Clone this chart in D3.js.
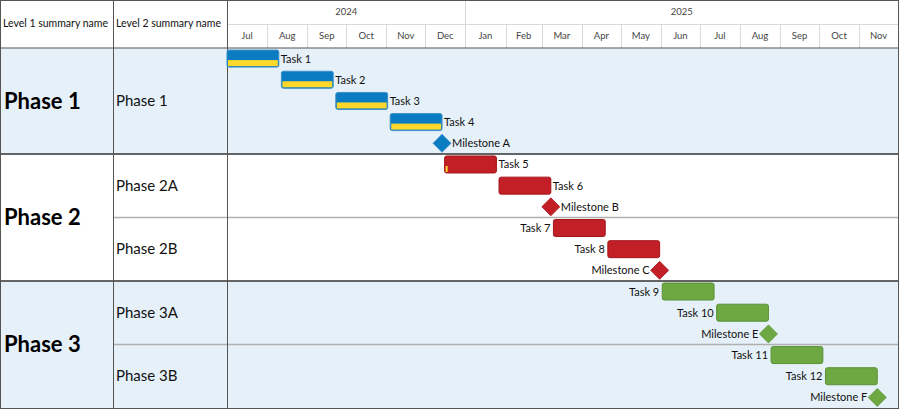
<!DOCTYPE html>
<html>
<head>
<meta charset="utf-8">
<script src="https://cdn.jsdelivr.net/npm/d3@7"></script>
<style>
  body { margin: 0; background: #fff; }
  svg { display: block; font-family: Lato, "Open Sans", sans-serif; }
</style>
</head>
<body>
<svg id="chart" width="900" height="409"></svg>
<script>
// level 1 / level 2 groups
const level1Names = ["Phase 1", "Phase 2", "Phase 3"];
const level1Colors = ["#0b7bc2", "#c21f26", "#6ea843"];
const level1Strokes = ["#3b8fc9", "#a5161d", "#5a9236"];
const level1Shade = [true, false, true];
const level2Names = ["Phase 1", "Phase 2A", "Phase 2B", "Phase 3A", "Phase 3B"];
const level2Parent = [0, 1, 1, 2, 2];

// rows (tasks and milestones)
const itemNames = ["Task 1", "Task 2", "Task 3", "Task 4", "Milestone A",
  "Task 5", "Task 6", "Milestone B",
  "Task 7", "Task 8", "Milestone C",
  "Task 9", "Task 10", "Milestone E",
  "Task 11", "Task 12", "Milestone F"];
const itemGroup = [0, 0, 0, 0, 0, 1, 1, 1, 2, 2, 2, 3, 3, 3, 4, 4, 4];
const itemStart = ["2024-07-01", "2024-08-12", "2024-09-23", "2024-11-04", "2024-12-14",
  "2024-12-16", "2025-01-27", "2025-03-08",
  "2025-03-10", "2025-04-21", "2025-05-31",
  "2025-06-02", "2025-07-14", "2025-08-23",
  "2025-08-25", "2025-10-06", "2025-11-15"];
const itemEnd = ["2024-08-10", "2024-09-21", "2024-11-02", "2024-12-14", "2024-12-14",
  "2025-01-25", "2025-03-08", "2025-03-08",
  "2025-04-19", "2025-05-31", "2025-05-31",
  "2025-07-12", "2025-08-23", "2025-08-23",
  "2025-10-04", "2025-11-15", "2025-11-15"];
const itemMilestone = [false, false, false, false, true, false, false, true,
  false, false, true, false, false, true, false, false, true];
const itemProgress = [100, 100, 100, 100, 0, 4, 0, 0, 0, 0, 0, 0, 0, 0, 0, 0, 0];
const itemLabelSide = ["right", "right", "right", "right", "right", "right", "right", "right",
  "left", "left", "left", "left", "left", "left", "left", "left", "left"];

const headerLeft = ["Level 1 summary name", "Level 2 summary name"];
const timeStart = "2024-07-01", timeEnd = "2025-12-01";

const parse = d3.timeParse("%Y-%m-%d");
const svg = d3.select("#chart");

let col1 = 0, col2 = 113, col3 = 227, right = 898;
let headerMid = 24, headerBottom = 48, bottom = 408;

let x = d3.scaleTime()
  .domain([parse(timeStart), parse(timeEnd)])
  .range([col3, right]);

let y = d3.scaleLinear()
  .domain([0, itemNames.length])
  .range([headerBottom, bottom]);

// index range of each level2 / level1 group
let l2Range = level2Names.map(function(d, i){
  let idx = itemGroup.map((g, j) => g == i ? j : -1).filter(j => j >= 0);
  return [d3.min(idx), d3.max(idx) + 1];
});
let l1Range = level1Names.map(function(d, i){
  let r = l2Range.filter((r, j) => level2Parent[j] == i);
  return [d3.min(r, r => r[0]), d3.max(r, r => r[1])];
});

let gBack = svg.append("g");
let gGrid = svg.append("g");
let gText = svg.append("g");
let gMarks = svg.append("g");

// shaded phase bands
gBack.selectAll("rect")
  .data(l1Range)
  .enter()
  .append("rect")
  .attr("x", col1)
  .attr("width", right - col1)
  .attr("y", d => y(d[0]))
  .attr("height", d => y(d[1]) - y(d[0]))
  .attr("fill", (d, i) => level1Shade[i] ? "#e5f0f8" : "#fff");

// header: years
let years = d3.timeYear.range(d3.timeYear.floor(x.domain()[0]), x.domain()[1]);
gGrid.selectAll(".year-line")
  .data(years.slice(1))
  .enter()
  .append("line")
  .attr("x1", d => Math.round(x(d)) + 0.5)
  .attr("x2", d => Math.round(x(d)) + 0.5)
  .attr("y1", 0)
  .attr("y2", headerBottom)
  .attr("stroke", "#d9d9d9");

gText.selectAll(".year-label")
  .data(years)
  .enter()
  .append("text")
  .attr("x", function(d){
    let a = Math.max(x(d), col3);
    let b = Math.min(x(d3.timeYear.offset(d, 1)), right);
    return (a + b) / 2;
  })
  .attr("y", 15)
  .attr("text-anchor", "middle")
  .attr("font-size", 9.5)
  .attr("fill", "#444")
  .text(d3.timeFormat("%Y"));

// header: months
let months = x.ticks(d3.timeMonth);
gGrid.selectAll(".month-line")
  .data(months.slice(1))
  .enter()
  .append("line")
  .attr("x1", d => Math.round(x(d)) + 0.5)
  .attr("x2", d => Math.round(x(d)) + 0.5)
  .attr("y1", headerMid)
  .attr("y2", headerBottom)
  .attr("stroke", "#d9d9d9");

gText.selectAll(".month-label")
  .data(months.filter(d => d < x.domain()[1]))
  .enter()
  .append("text")
  .attr("x", d => (x(d) + x(d3.timeMonth.offset(d, 1))) / 2)
  .attr("y", 39)
  .attr("text-anchor", "middle")
  .attr("font-size", 9.5)
  .attr("fill", "#444")
  .text(d3.timeFormat("%b"));

gGrid.append("line")
  .attr("x1", col3).attr("x2", right)
  .attr("y1", headerMid + 0.5).attr("y2", headerMid + 0.5)
  .attr("stroke", "#d9d9d9");

// left header texts
gText.selectAll(".head-left")
  .data(headerLeft)
  .enter()
  .append("text")
  .attr("x", (d, i) => (i == 0 ? col1 : col2) + 3)
  .attr("y", 27)
  .attr("font-size", 10.5)
  .attr("fill", "#111")
  .text(d => d);

// level 2 separators (thin gray, inside a phase)
gGrid.selectAll(".l2-line")
  .data(l2Range.filter((r, i) => i > 0 && level2Parent[i] == level2Parent[i - 1]))
  .enter()
  .append("line")
  .attr("x1", col2).attr("x2", right)
  .attr("y1", d => y(d[0])).attr("y2", d => y(d[0]))
  .attr("stroke", "#b0b0b0")
  .attr("stroke-width", 1.5);

// level 1 separators (thick dark)
gGrid.selectAll(".l1-line")
  .data(l1Range.slice(1))
  .enter()
  .append("line")
  .attr("x1", col1).attr("x2", right)
  .attr("y1", d => y(d[0])).attr("y2", d => y(d[0]))
  .attr("stroke", "#333")
  .attr("stroke-width", 1.5);

gGrid.append("line")
  .attr("x1", col1).attr("x2", right)
  .attr("y1", headerBottom).attr("y2", headerBottom)
  .attr("stroke", "#555")
  .attr("stroke-width", 1.2);

// vertical column lines
gGrid.selectAll(".col-line")
  .data([col2, col3])
  .enter()
  .append("line")
  .attr("x1", d => d + 0.5).attr("x2", d => d + 0.5)
  .attr("y1", 0).attr("y2", bottom + 1)
  .attr("stroke", "#555");

// outer border
gGrid.append("rect")
  .attr("x", col1 + 0.5).attr("y", 0.5)
  .attr("width", right - col1).attr("height", bottom)
  .attr("fill", "none")
  .attr("stroke", "#555");

// level 1 / level 2 names
gText.selectAll(".l1-name")
  .data(l1Range)
  .enter()
  .append("text")
  .attr("x", col1 + 4)
  .attr("y", d => (y(d[0]) + y(d[1])) / 2 + 8)
  .attr("font-size", 22)
  .attr("font-weight", "bold")
  .attr("fill", "#000")
  .text((d, i) => level1Names[i]);

gText.selectAll(".l2-name")
  .data(l2Range)
  .enter()
  .append("text")
  .attr("x", col2 + 3)
  .attr("y", d => (y(d[0]) + y(d[1])) / 2 + 5)
  .attr("font-size", 15)
  .attr("fill", "#111")
  .text((d, i) => level2Names[i]);

// tasks
let rowH = y(1) - y(0);
let barH = 17;
let items = itemNames.map(function(d, i){
  return {
    name: d, i: i,
    start: parse(itemStart[i]), end: parse(itemEnd[i]),
    milestone: itemMilestone[i], progress: itemProgress[i],
    side: itemLabelSide[i],
    phase: level2Parent[itemGroup[i]]
  };
});

let tasks = items.filter(d => !d.milestone);
let gTask = gMarks.selectAll(".task")
  .data(tasks)
  .enter()
  .append("g")
  .attr("class", "task");

gTask.append("rect")
  .attr("x", d => x(d.start))
  .attr("y", d => y(d.i) + rowH / 2 - barH / 2)
  .attr("width", d => x(d.end) - x(d.start))
  .attr("height", barH)
  .attr("rx", 2)
  .attr("fill", d => level1Colors[d.phase])
  .attr("stroke", d => level1Strokes[d.phase])
  .attr("stroke-width", 1);

gTask.filter(d => d.progress > 0)
  .append("rect")
  .attr("x", d => x(d.start) + 1)
  .attr("y", d => y(d.i) + rowH / 2 + 1.5)
  .attr("width", d => (x(d.end) - x(d.start) - 2) * d.progress / 100)
  .attr("height", barH / 2 - 2.5)
  .attr("fill", "#fdd82b");

gTask.append("text")
  .attr("x", d => d.side == "right" ? x(d.end) + 2 : x(d.start) - 3)
  .attr("y", d => y(d.i) + rowH / 2 + 4)
  .attr("text-anchor", d => d.side == "right" ? "start" : "end")
  .attr("font-size", 11)
  .attr("fill", "#111")
  .text(d => d.name);

// milestones
let ms = 9;
let gMs = gMarks.selectAll(".milestone")
  .data(items.filter(d => d.milestone))
  .enter()
  .append("g")
  .attr("class", "milestone");

gMs.append("path")
  .attr("d", function(d){
    let cx = x(d.start), cy = y(d.i) + rowH / 2;
    return "M" + (cx - ms) + "," + cy + "L" + cx + "," + (cy - ms) +
      "L" + (cx + ms) + "," + cy + "L" + cx + "," + (cy + ms) + "Z";
  })
  .attr("fill", d => level1Colors[d.phase])
  .attr("stroke", d => level1Strokes[d.phase])
  .attr("stroke-width", 0.8);

gMs.append("text")
  .attr("x", d => d.side == "right" ? x(d.start) + ms + 1 : x(d.start) - ms - 1)
  .attr("y", d => y(d.i) + rowH / 2 + 4)
  .attr("text-anchor", d => d.side == "right" ? "start" : "end")
  .attr("font-size", 11)
  .attr("fill", "#111")
  .text(d => d.name);
</script>
</body>
</html>
